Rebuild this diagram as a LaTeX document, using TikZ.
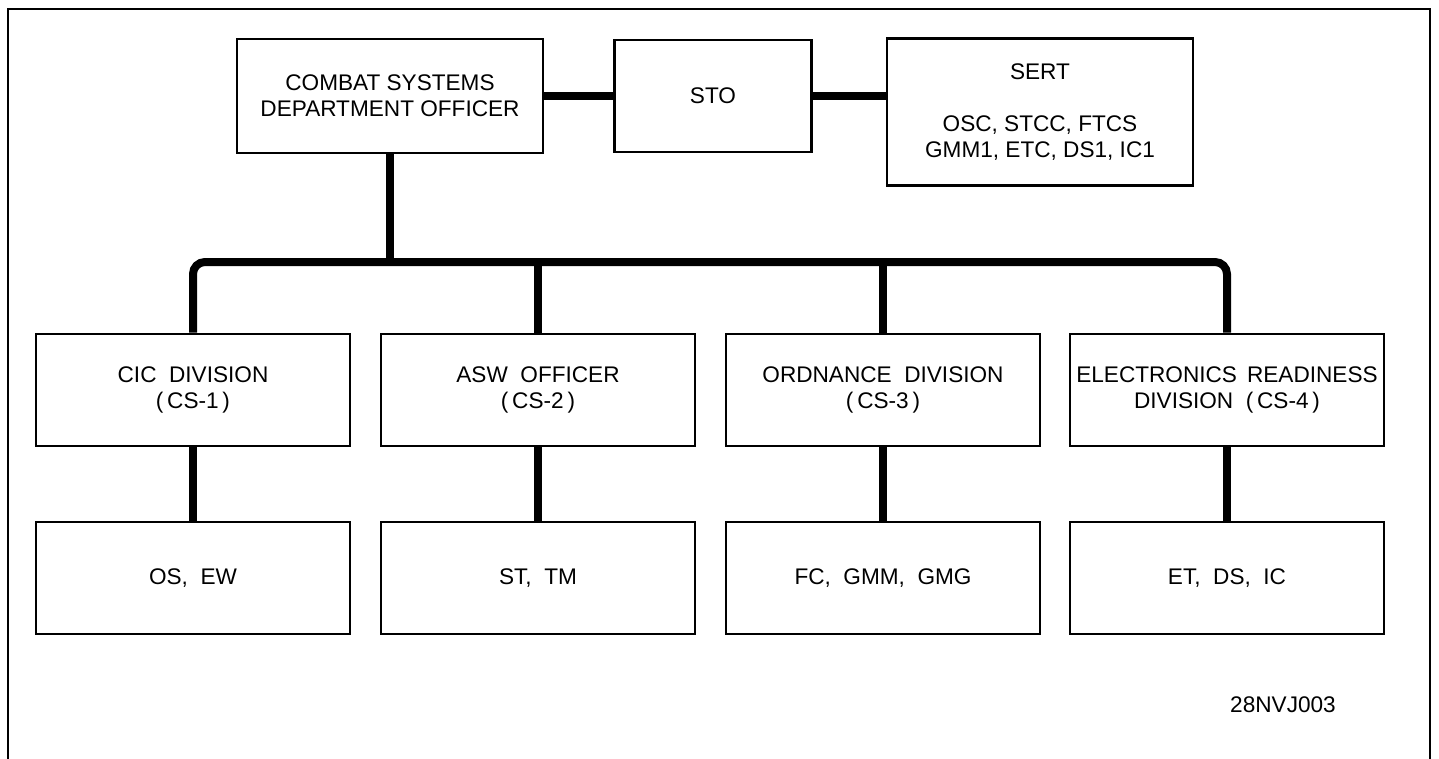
\documentclass[tikz,border=0pt]{standalone}
\usepackage{fontspec}
\setmainfont{Liberation Sans}
\usepackage{tikz}
\usetikzlibrary{positioning,calc}

\newcommand{\chartfont}{\fontsize{11.3}{13}\selectfont}

\begin{document}
\begin{tikzpicture}[
    x=0.5pt, y=-0.5pt,
    box/.style={draw, line width=1.3pt, minimum width=157pt, minimum height=56pt, align=center, inner sep=0pt, font=\chartfont},
    link/.style={draw, line width=4pt},
    frame/.style={draw, line width=1pt}
]
\useasboundingbox (0,0) rectangle (1439,759);

% Outer frame (bottom edge cut off)
\draw[frame] (8,770) -- (8,9) -- (1430,9) -- (1430,770);

% Top row
\node[box, minimum width=153pt, minimum height=57pt] (csdo) at (390,96) {COMBAT SYSTEMS\\DEPARTMENT OFFICER};
\node[box, minimum width=98.5pt] (sto) at (713,96) {STO};
\node[box, minimum width=153pt, minimum height=73.5pt] (sert) at (1040,112) {SERT\\[13pt]OSC,\ STCC,\ FTCS\\GMM1,\ ETC,\ DS1,\ IC1};

% Divisions
\node[box] (cic) at (193,390) {CIC\ \ DIVISION\\(\,CS-1\,)};
\node[box] (asw) at (538,390) {ASW\ \ OFFICER\\(\,CS-2\,)};
\node[box] (ord) at (883,390) {ORDNANCE\ \ DIVISION\\(\,CS-3\,)};
\node[box] (elec) at (1227,390) {ELECTRONICS\, READINESS\\DIVISION\ \ (\,CS-4\,)};

% Ratings
\node[box] (osew) at (193,578) {OS,\ \ EW};
\node[box] (sttm) at (538,578) {ST,\ \ TM};
\node[box] (fcgm) at (883,578) {FC,\ \ GMM,\ \ GMG};
\node[box] (etds) at (1227,578) {ET,\ \ DS,\ \ IC};

\node[font=\chartfont] (fig) at (1283,705) {28NVJ003};

% Connectors
\coordinate (bus) at (390,262);
\draw[link] (csdo.east) -- (sto.west);
\draw[link] (sto.east) -- (sto.east -| sert.west);
\draw[link] (csdo.south) -- (bus);
\draw[link, rounded corners=6pt] (cic.north) |- (bus) -| (elec.north);
\draw[link] (asw.north) -- (asw.north |- bus);
\draw[link] (ord.north) -- (ord.north |- bus);
\draw[link] (cic) -- (osew);
\draw[link] (asw) -- (sttm);
\draw[link] (ord) -- (fcgm);
\draw[link] (elec) -- (etds);

\end{tikzpicture}
\end{document}
